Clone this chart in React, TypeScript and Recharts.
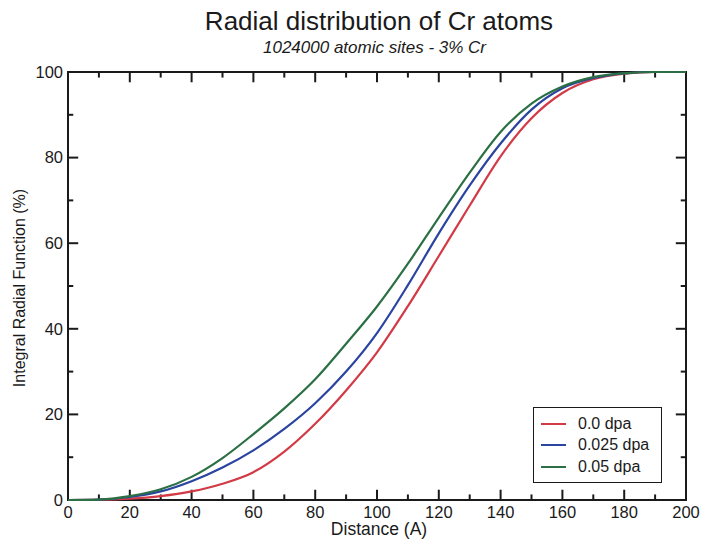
import React from 'react';
import { LineChart, Line, XAxis, YAxis, ReferenceArea, ReferenceLine } from 'recharts';

const distances = [0, 10, 20, 30, 40, 50, 60, 70, 80, 90, 100, 110, 120, 130, 140, 150, 160, 170, 180, 190, 200];
const dpa00 = [0, 0.05, 0.3, 0.9, 2.0, 3.8, 6.5, 11.3, 17.8, 25.6, 34.5, 45.3, 57.0, 68.8, 80.3, 89.2, 95.1, 98.3, 99.6, 100, 100];
const dpa025 = [0, 0.1, 0.7, 2.0, 4.4, 7.6, 11.6, 16.6, 22.6, 30.0, 39.0, 50.2, 62.3, 73.5, 83.3, 91.2, 96.2, 98.6, 99.7, 100, 100];
const dpa05 = [0, 0.1, 0.9, 2.5, 5.4, 9.8, 15.4, 21.4, 28.2, 36.5, 45.2, 55.2, 66.0, 76.5, 86.0, 92.6, 96.6, 98.8, 99.7, 100, 100];

const seriesNames = ['0.0 dpa', '0.025 dpa', '0.05 dpa'];
const seriesColors = ['#d23a45', '#2a44a0', '#2b7044'];

const xTicks = [0, 10, 20, 30, 40, 50, 60, 70, 80, 90, 100, 110, 120, 130, 140, 150, 160, 170, 180, 190, 200];
const yTicks = [0, 10, 20, 30, 40, 50, 60, 70, 80, 90, 100];
const xLabelStep = 20;
const yLabelStep = 20;

const titleText = 'Radial distribution of Cr atoms';
const subtitleText = '1024000 atomic sites - 3% Cr';
const xLabel = 'Distance (A)';
const yLabel = 'Integral Radial Function (%)';

const data = distances.map((d, i) => ({
  d,
  s0: dpa00[i],
  s1: dpa025[i],
  s2: dpa05[i],
}));

const FONT = '"Liberation Sans", Arial, Helvetica, sans-serif';
const AX = '#1a1a1a';

const W = 705;
const H = 539;
const MARGIN = { top: 72, right: 19, bottom: 9, left: 0 };
const Y_AXIS_W = 68;
const X_AXIS_H = 30;
const PLOT_LEFT = MARGIN.left + Y_AXIS_W;
const PLOT_BOTTOM = H - MARGIN.bottom - X_AXIS_H;

// tick-mark lengths, in data units of the perpendicular axis
const X_TICK_MAJOR = 2.4;
const X_TICK_MINOR = 1.3;
const Y_TICK_MAJOR = 3.3;
const Y_TICK_MINOR = 1.7;

const XTick = (props: any) => {
  const { x, payload } = props;
  const v = payload.value;
  if (v % xLabelStep !== 0) return <g />;
  return (
    <text x={x} y={PLOT_BOTTOM + 6} dy="0.71em" textAnchor="middle" fill={AX} fontSize={16.5} fontFamily={FONT}>
      {v}
    </text>
  );
};

const YTick = (props: any) => {
  const { y, payload } = props;
  const v = payload.value;
  if (v % yLabelStep !== 0) return <g />;
  return (
    <text x={PLOT_LEFT - 5} y={y} dy="0.355em" textAnchor="end" fill={AX} fontSize={16.5} fontFamily={FONT}>
      {v}
    </text>
  );
};

const LegendBox = () => (
  <div
    style={{
      position: 'absolute',
      left: 533,
      top: 407,
      border: '1.5px solid #1a1a1a',
      background: '#fff',
      padding: '5px 10px 4px 7px',
      fontFamily: FONT,
      fontSize: 16,
      color: '#1a1a1a',
      width: 110,
    }}
  >
    {seriesNames.map((n, i) => (
      <div key={n} style={{ display: 'flex', alignItems: 'center', height: 21.5 }}>
        <div style={{ width: 25, height: 2, background: seriesColors[i], marginRight: 12 }} />
        <span>{n}</span>
      </div>
    ))}
  </div>
);

export default function App() {
  const tickSegs: any[] = [];
  xTicks.forEach((v) => {
    const len = v % xLabelStep === 0 ? X_TICK_MAJOR : X_TICK_MINOR;
    tickSegs.push([{ x: v, y: 0 }, { x: v, y: len }]);
    tickSegs.push([{ x: v, y: 100 }, { x: v, y: 100 - len }]);
  });
  yTicks.forEach((v) => {
    const len = v % yLabelStep === 0 ? Y_TICK_MAJOR : Y_TICK_MINOR;
    tickSegs.push([{ x: 0, y: v }, { x: len, y: v }]);
    tickSegs.push([{ x: 200, y: v }, { x: 200 - len, y: v }]);
  });
  return (
    <div style={{ position: 'absolute', left: 0, top: 0, width: W, height: H, background: '#fff' }}>
      <div
        style={{
          position: 'absolute',
          left: 0,
          width: 758,
          top: 6,
          textAlign: 'center',
          fontFamily: FONT,
          fontSize: 26,
          color: '#1a1a1a',
        }}
      >
        {titleText}
      </div>
      <div
        style={{
          position: 'absolute',
          left: 0,
          width: 749,
          top: 38,
          textAlign: 'center',
          fontFamily: FONT,
          fontSize: 17,
          fontStyle: 'italic',
          color: '#1a1a1a',
        }}
      >
        {subtitleText}
      </div>
      <div
        style={{
          position: 'absolute',
          left: 0,
          width: 758,
          top: 519,
          textAlign: 'center',
          fontFamily: FONT,
          fontSize: 17.5,
          color: '#1a1a1a',
        }}
      >
        {xLabel}
      </div>
      <div
        style={{
          position: 'absolute',
          left: 20,
          top: 288,
          transform: 'translate(-50%, -50%) rotate(-90deg)',
          whiteSpace: 'nowrap',
          fontFamily: FONT,
          fontSize: 16,
          color: '#1a1a1a',
        }}
      >
        {yLabel}
      </div>
      <div style={{ position: 'absolute', left: 0, top: 0 }}>
        <LineChart width={W} height={H} data={data} margin={MARGIN}>
          <XAxis
            xAxisId="x"
            dataKey="d"
            type="number"
            domain={[0, 200]}
            ticks={xTicks}
            height={X_AXIS_H}
            tickLine={false}
            tickSize={0}
            tickMargin={6}
            axisLine={false}
            tick={XTick}
            interval={0}
          />
          <YAxis
            yAxisId="y"
            type="number"
            domain={[0, 100]}
            ticks={yTicks}
            width={Y_AXIS_W}
            tickLine={false}
            tickSize={0}
            tickMargin={6}
            axisLine={false}
            tick={YTick}
            interval={0}
          />
          <ReferenceArea xAxisId="x" yAxisId="y" x1={0} x2={200} y1={0} y2={100} fill="none" fillOpacity={0} stroke={AX} strokeWidth={2} ifOverflow="visible" />
          {tickSegs.map((seg, i) => (
            <ReferenceLine key={i} xAxisId="x" yAxisId="y" segment={seg} stroke={AX} strokeWidth={2} ifOverflow="visible" />
          ))}
          <Line xAxisId="x" yAxisId="y" type="monotone" dataKey="s0" name={seriesNames[0]} stroke={seriesColors[0]} strokeWidth={2.2} dot={false} isAnimationActive={false} />
          <Line xAxisId="x" yAxisId="y" type="monotone" dataKey="s1" name={seriesNames[1]} stroke={seriesColors[1]} strokeWidth={2.2} dot={false} isAnimationActive={false} />
          <Line xAxisId="x" yAxisId="y" type="monotone" dataKey="s2" name={seriesNames[2]} stroke={seriesColors[2]} strokeWidth={2.2} dot={false} isAnimationActive={false} />
        </LineChart>
      </div>
      <LegendBox />
    </div>
  );
}
